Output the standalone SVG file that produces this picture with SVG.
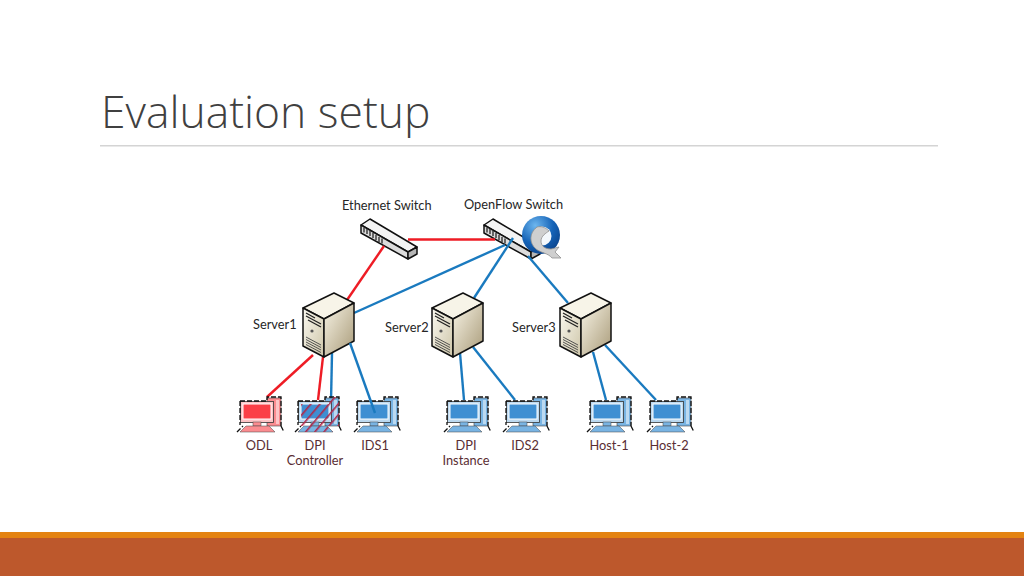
<svg xmlns="http://www.w3.org/2000/svg" width="1024" height="576" viewBox="0 0 1024 576">
<style>
text{font-family:"Lato","Open Sans","Liberation Sans",sans-serif}
.title{font-family:"Open Sans","Liberation Sans",sans-serif;font-weight:300;font-size:44.400px;fill:#404040}
.lb{font-size:12.800px;fill:#262626}
.pl{font-size:12.800px;fill:#5a2d33;text-anchor:middle}
.red{stroke:#ee1c25;stroke-width:2.4;fill:none}
.blue{stroke:#1a7abf;stroke-width:2.4;fill:none}
.pcb{--d:#3f8fd2;--m:#79b4e3;--l:#bcd9f0}
.pcr{--d:#fb3f47;--m:#fb8c90;--l:#fdc4c6}
.dash{fill:none;stroke:#111;stroke-width:1.3;stroke-dasharray:5 2}
</style>
<defs>
<linearGradient id="sr" x1="0" y1="0" x2="1" y2="1"><stop offset="0" stop-color="#f8f4e6"/><stop offset="1" stop-color="#a89a78"/></linearGradient>
<linearGradient id="sf" x1="0" y1="0" x2="1" y2="1"><stop offset="0" stop-color="#fbf9f0"/><stop offset="1" stop-color="#cdc5a8"/></linearGradient>
<radialGradient id="lg" cx="0.35" cy="0.25" r="0.85"><stop offset="0" stop-color="#6db6ee"/><stop offset="0.55" stop-color="#1664b8"/><stop offset="1" stop-color="#0a3f86"/></radialGradient>
<pattern id="hatch" width="7" height="7" patternUnits="userSpaceOnUse" patternTransform="rotate(40)"><rect width="1.600" height="7" fill="#b0284a"/></pattern>
<g id="server">
<polygon points="0,15 31,0 51,10 21,26" fill="#f7f4e8" stroke="#111" stroke-width="1.500" stroke-linejoin="round"/>
<polygon points="0,15 21,26 21,64 0,53" fill="url(#sf)" stroke="#111" stroke-width="1.500" stroke-linejoin="round"/>
<polygon points="21,26 51,10 51,48 21,64" fill="url(#sr)" stroke="#111" stroke-width="1.500" stroke-linejoin="round"/>
<path d="M3,20 L12,25 M3,23 L18,31 M5,27 L18,34" stroke="#222" stroke-width="1.300" fill="none"/>
<circle cx="9" cy="38" r="1.600" fill="#555"/>
<path d="M3,44 L18,52 M3,46.500 L18,54.500 M3,49 L18,57 M3,51.500 L18,59.500" stroke="#444" stroke-width="0.900" fill="none"/>
</g>
<g id="switch">
<polygon points="0,6 9,0 56,28 47,33" fill="#f4f4f4" stroke="#111" stroke-width="1.500" stroke-linejoin="round"/>
<polygon points="0,6 47,33 47,40 0,14" fill="#dcdcdc" stroke="#111" stroke-width="1.500" stroke-linejoin="round"/>
<polygon points="47,33 56,28 56,35 47,40" fill="#b5b5b5" stroke="#111" stroke-width="1.500" stroke-linejoin="round"/>
<path d="M3,8.500 v5 M6,10 v5 M9,12 v5 M12,14 v5 M15,16 v5 M18,18 v5 M21,19.500 v5" stroke="#333" stroke-width="1.400"/>
</g>
<g id="pc">
<rect x="27" y="1" width="14" height="28" fill="var(--m)" stroke="#444" stroke-width="0.600"/>
<rect x="36" y="3" width="3" height="24" fill="var(--l)"/>
<rect x="0.500" y="4.500" width="33" height="21" fill="var(--l)" stroke="#333" stroke-width="0.800"/>
<rect x="3" y="7" width="28" height="15" fill="var(--d)" stroke="#fff" stroke-width="1"/>
<rect x="13" y="25" width="8" height="4" fill="var(--m)" stroke="#444" stroke-width="0.500"/>
<polygon points="6,29 29,29 35,35 0,35" fill="var(--m)" stroke="#444" stroke-width="0.500"/>
<path d="M0,4 H27 V0 H41 V29 M41,29 L44,35 M-3,35 L3,29 M0,4 V28" class="dash"/>
</g>
</defs>
<rect width="1024" height="576" fill="#fff"/>
<g id="slide-frame">
<text class="title" x="101" y="128">Evaluation setup</text>
<rect x="100" y="145" width="838" height="1.500" fill="#d4d4d4"/>
<rect x="0" y="532" width="1024" height="6" fill="#e48312"/>
<rect x="0" y="538" width="1024" height="38" fill="#bd582c"/>
</g>
<g id="ethernet-switch"><use href="#switch" x="361" y="219"/><text class="lb" x="342" y="210">Ethernet Switch</text></g>
<g id="openflow-switch"><use href="#switch" x="484" y="219"/>
<circle cx="541" cy="235" r="19" fill="url(#lg)"/>
<circle cx="542" cy="236" r="9.500" fill="#f4f8fc"/>
<path d="M537,227 C529,233 529,243 536,249 C541,253 548,253 552,258 L561,258 L555,252 L559,247 L551,249 C545,249 541,246 541,241 C541,236 546,233 549,231 C545,227 541,226 537,227 Z" fill="#cfcfcf" stroke="#8f8f8f" stroke-width="0.800"/>
<text class="lb" x="464" y="209">OpenFlow Switch</text></g>
<g id="connectors">
<path class="red" d="M384,246 L347,300"/>
<path class="red" d="M408,239.500 H495"/>
<path class="blue" d="M354,313 L505,245"/>
<path class="blue" d="M474,298 L513,238"/>
<path class="blue" d="M528,256 L568,303"/>
<path class="red" d="M313,355 L267,397"/>
<path class="red" d="M323,357 L318,400"/>
<path class="blue" d="M332,353 L331,402"/>
<path class="blue" d="M460,353 L464,400"/>
<path class="blue" d="M473,347 L515,400"/>
<path class="blue" d="M593,352 L606,400"/>
<path class="blue" d="M605,345 L656,400"/>
</g>
<g id="server1"><use href="#server" x="303" y="293"/><text class="lb" x="253" y="329">Server1</text></g>
<g id="server2"><use href="#server" x="432" y="293"/><text class="lb" x="385" y="332">Server2</text></g>
<g id="server3"><use href="#server" x="560" y="293"/><text class="lb" x="512" y="332">Server3</text></g>
<g id="odl" class="pcr"><use href="#pc" x="240" y="397"/><text class="pl" x="259" y="450">ODL</text></g>
<g id="dpi-controller" class="pcb"><use href="#pc" x="298" y="397"/>
<path d="M301,404 H329 V397 H339 V426 H301 Z M304,426 H327 L333,432 H298 Z" fill="url(#hatch)"/>
<text class="pl" x="315" y="450">DPI</text><text class="pl" x="315" y="465">Controller</text></g>
<g id="ids1" class="pcb"><use href="#pc" x="357" y="397"/><text class="pl" x="375" y="450">IDS1</text></g>
<g id="dpi-instance" class="pcb"><use href="#pc" x="447" y="397"/><text class="pl" x="466" y="450">DPI</text><text class="pl" x="466" y="465">Instance</text></g>
<g id="ids2" class="pcb"><use href="#pc" x="506" y="397"/><text class="pl" x="525" y="450">IDS2</text></g>
<g id="host-1" class="pcb"><use href="#pc" x="590" y="397"/><text class="pl" x="609" y="450">Host-1</text></g>
<g id="host-2" class="pcb"><use href="#pc" x="650" y="397"/><text class="pl" x="669" y="450">Host-2</text></g>
<path class="blue" d="M350,343 L375,413"/>
</svg>
